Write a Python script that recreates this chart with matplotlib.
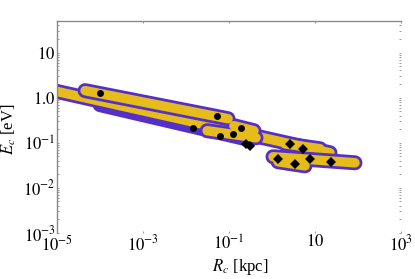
import numpy as np
import matplotlib
matplotlib.use("Agg")
import matplotlib.pyplot as plt
from matplotlib.ticker import FixedLocator, FixedFormatter, NullFormatter

plt.rcParams['font.family'] = ['Liberation Serif', 'DejaVu Serif']
plt.rcParams['mathtext.fontset'] = 'stix'

# Bands: start/end points (R in kpc, E in eV), grouped (each group drawn outline-then-fill)
band_names = ["C", "A", "H", "B", "F", "G", "L2", "L"]
band_group = [0, 0, 0, 1, 1, 1, 2, 2]
band_r0 = [1.0e-4, 4.0e-6, 2.0, 4.5e-5, 0.031, 0.130, 1.38, 1.055]
band_e0 = [0.70, 1.67, 0.095, 1.43, 0.185, 0.239, 0.038, 0.0489]
band_r1 = [0.31, 22.3, 13.1, 0.095, 0.425, 0.381, 5.85, 85.0]
band_e1 = [0.117, 0.060, 0.0736, 0.341, 0.129, 0.185, 0.0308, 0.036]
band_fill = [False, True, True, True, True, True, True, True]

# Data points
circ_r = [1.0e-4, 0.0146, 0.052, 0.062, 0.124, 0.19]
circ_e = [1.29, 0.215, 0.40, 0.143, 0.158, 0.215]
diam_r = [0.248, 0.31, 2.62, 5.26, 1.38, 3.43, 7.65, 23.5]
diam_e = [0.095, 0.086, 0.095, 0.0736, 0.044, 0.034, 0.044, 0.038]

xticks = [1e-5, 1e-3, 1e-1, 1e1, 1e3]
xticklabels = [r'$10^{-5}$', r'$10^{-3}$', r'$10^{-1}$', r'$10$', r'$10^{3}$']
yticks = [1e-3, 1e-2, 1e-1, 1.0, 10.0]
yticklabels = [r'$10^{-3}$', r'$10^{-2}$', r'$10^{-1}$', r'$1.0$', r'$10$']

YELLOW = '#E6BC1A'
PURPLE = '#5530C8'

fig = plt.figure(figsize=(4.15, 2.79), dpi=100)
ax = fig.add_axes([57/415, 1-233/279, (401-57)/415, (233-21)/279])
ax.set_xscale('log')
ax.set_yscale('log')
ax.set_xlim(1e-5, 1e3)
ax.set_ylim(1e-3, 50)

pw = 15 * 0.72
yw = 9.5 * 0.72
z = 2.0
for g in sorted(set(band_group)):
    idx = [i for i, gg in enumerate(band_group) if gg == g]
    for i in idx:
        ax.plot([band_r0[i], band_r1[i]], [band_e0[i], band_e1[i]], color=PURPLE,
                lw=pw, solid_capstyle='round', zorder=z)
    z += 0.1
    for i in idx:
        if band_fill[i]:
            ax.plot([band_r0[i], band_r1[i]], [band_e0[i], band_e1[i]], color=YELLOW,
                    lw=yw, solid_capstyle='round', zorder=z)
    z += 0.1

ax.plot(circ_r, circ_e, 'o', color='black', ms=5, mew=0, zorder=5)
ax.plot(diam_r, diam_e, 'D', color='black', ms=5, mew=0, zorder=5)

ax.xaxis.set_major_locator(FixedLocator(xticks))
ax.xaxis.set_major_formatter(FixedFormatter(xticklabels))
ax.yaxis.set_major_locator(FixedLocator(yticks))
ax.yaxis.set_major_formatter(FixedFormatter(yticklabels))
ax.xaxis.set_minor_formatter(NullFormatter())
ax.yaxis.set_minor_formatter(NullFormatter())

for s in ['bottom', 'right']:
    ax.spines[s].set_visible(False)
for s in ['left', 'top']:
    ax.spines[s].set_color('#8a8a8a')
    ax.spines[s].set_linewidth(1.0)

ax.tick_params(which='both', direction='in', colors='#8a8a8a', labelcolor='black',
               labelsize=12, top=True, right=True, length=1.5, width=0.6)
ax.tick_params(axis='x', pad=1)
ax.tick_params(axis='y', pad=1)

ax.set_xlabel(r'$R_c$ [kpc]', fontsize=12)
ax.set_ylabel(r'$E_c$ [eV]', fontsize=12)
ax.xaxis.set_label_coords(0.532, -0.115)
ax.yaxis.set_label_coords(-0.112, 0.49)

fig.savefig('out.png', dpi=100)
